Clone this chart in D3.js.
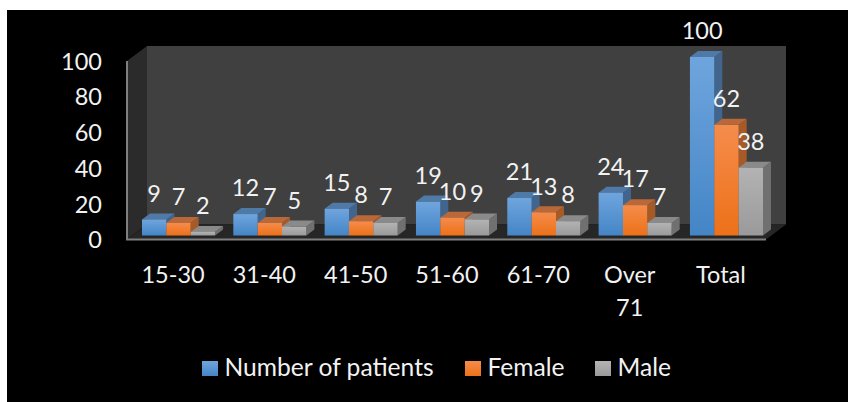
<!DOCTYPE html>
<html><head><meta charset="utf-8">
<script src="https://cdn.jsdelivr.net/npm/d3@7/dist/d3.min.js"></script>
<style>html,body{margin:0;background:#fff}svg{display:block}text{font-family:Lato,sans-serif;fill:#f2f2f2}</style>
</head><body><div id="chart"></div>
<script>
const categories = ["15-30","31-40","41-50","51-60","61-70","Over 71","Total"];
const seriesNames = ["Number of patients","Female","Male"];
const patients = [9,12,15,19,21,24,100];
const female = [7,7,8,10,13,17,62];
const male = [2,5,7,9,8,7,38];
const yTicks = [0,20,40,60,80,100];
const seriesValues = [patients,female,male];

const palette = [
  {top:"#6fa5de",bottom:"#4485c6",roof:"#4f7aa8",side:"#41658c"},
  {top:"#f58c4c",bottom:"#ed7118",roof:"#b9683a",side:"#a65a26"},
  {top:"#b3b3b3",bottom:"#9a9a9a",roof:"#8a8a8a",side:"#707070"}
];

const W = 848, H = 402;
const svg = d3.select("#chart").append("svg").attr("width",W).attr("height",H);
const defs = svg.append("defs");
palette.forEach((p,i)=>{
  const g = defs.append("linearGradient").attr("id","fill"+i).attr("x1",0).attr("y1",0).attr("x2",0).attr("y2",1);
  g.append("stop").attr("offset",0).attr("stop-color",p.top);
  g.append("stop").attr("offset",1).attr("stop-color",p.bottom);
});

svg.append("rect").attr("x",7).attr("y",10).attr("width",W-7).attr("height",H-10).attr("fill","#000");

const y = d3.scaleLinear().domain([0,100]).range([235.5,57]);
const x = d3.scaleBand().domain(categories).range([132.87,772.13]).paddingInner(0.2).paddingOuter(0.1);
const bar = d3.scaleBand().domain(d3.range(3)).range([0,x.bandwidth()]);

// Walls and floor of the 3D box
const depthX = 20, depthY = 15;
const frontL = 127, frontR = 766, floorY = y(0)+4, ceilY = y(100)+4;
const poly = (pts,fill)=>svg.append("polygon").attr("points",pts.map(p=>p.join(",")).join(" ")).attr("fill",fill);
poly([[frontL+depthX,ceilY-depthY],[frontR+depthX,ceilY-depthY],[frontR+depthX,floorY-depthY],[frontL+depthX,floorY-depthY]],"#404040");
poly([[frontL,ceilY],[frontL+depthX,ceilY-depthY],[frontL+depthX,floorY-depthY],[frontL,floorY]],"#2b2b2b");
poly([[frontL,floorY],[frontL+depthX,floorY-depthY],[frontR+depthX,floorY-depthY],[frontR,floorY]],"#262626");
// Axis lines on the front edge
svg.append("path").attr("d",`M${frontL},${ceilY}V${floorY}H${frontR}`).attr("fill","none").attr("stroke","#7f7f7f").attr("stroke-width",2);

// Value axis labels
svg.append("g").selectAll("text").data(yTicks).join("text")
  .attr("x",102).attr("y",d=>y(d)+4.5).attr("dy","0.35em").attr("text-anchor","end")
  .attr("font-size",23.5).text(d=>d);

// Bars, drawn left to right so each front covers its neighbour's side
const dx = 8, dy = 6;
categories.forEach((c,ci)=>{
  seriesValues.forEach((vals,si)=>{
    const v = vals[ci], x0 = x(c)+bar(si), w = bar.bandwidth(), yT = y(v), yB = y(0), p = palette[si];
    const g = svg.append("g");
    g.append("polygon").attr("points",`${x0+w},${yT} ${x0+w+dx},${yT-dy} ${x0+w+dx},${yB-dy} ${x0+w},${yB}`).attr("fill",p.side);
    g.append("polygon").attr("points",`${x0},${yT} ${x0+dx},${yT-dy} ${x0+w+dx},${yT-dy} ${x0+w},${yT}`).attr("fill",p.roof);
    g.append("rect").attr("x",x0).attr("y",yT).attr("width",w).attr("height",yB-yT).attr("fill",`url(#fill${si})`);
  });
});

// Value labels above each bar
categories.forEach((c,ci)=>{
  seriesValues.forEach((vals,si)=>{
    svg.append("text").attr("x",x(c)+bar(si)+bar.bandwidth()/2).attr("y",y(vals[ci])-26)
      .attr("dy","0.35em").attr("text-anchor","middle").attr("font-size",23.5).text(vals[ci]);
  });
});

// Category labels, with the long one broken over two lines
categories.forEach(c=>{
  const t = svg.append("text").attr("text-anchor","middle").attr("font-size",23.5);
  const cx = x(c)+x.bandwidth()/2-5.5;
  c.split(" ").forEach((w,i)=>t.append("tspan").attr("x",cx).attr("y",283+i*33).text(w));
});

// Legend
const legendX = [202,465,595];
seriesNames.forEach((n,i)=>{
  svg.append("rect").attr("x",legendX[i]).attr("y",361).attr("width",16).attr("height",15).attr("fill",`url(#fill${i})`);
  svg.append("text").attr("x",legendX[i]+22.5).attr("y",376).attr("font-size",24.6).text(n);
});
</script></body></html>
